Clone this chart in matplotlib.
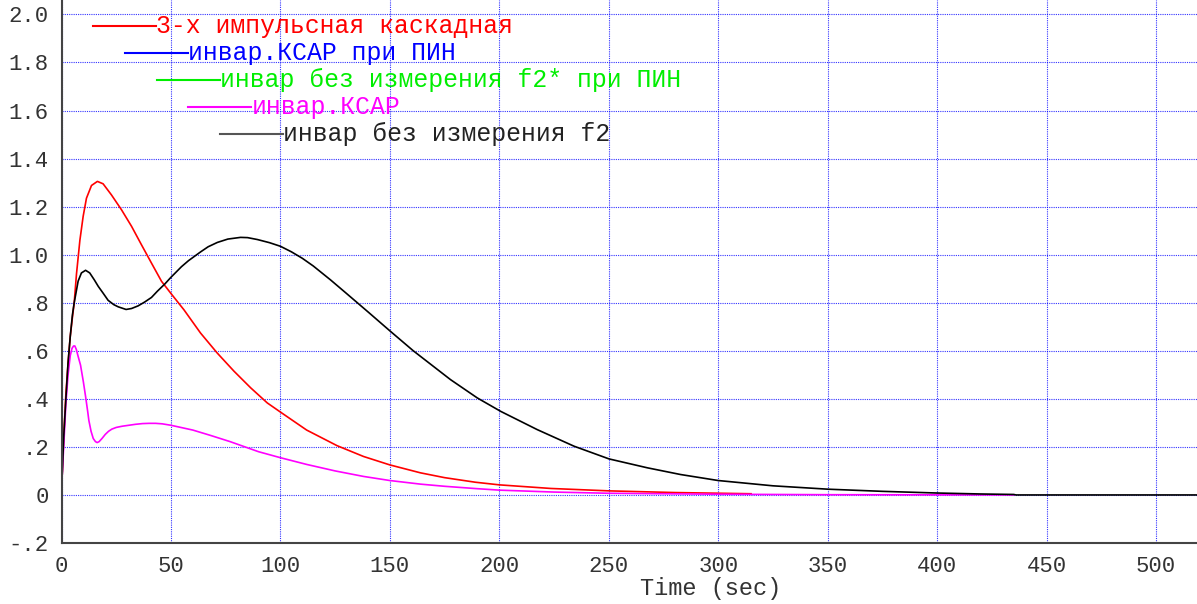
import matplotlib.pyplot as plt

# time axis points (sec) and responses
t_red = [0.3, 1, 2, 3, 4, 5, 5.8, 6.85, 8.4, 9.9, 11.4, 13.7, 16.4, 19.0, 22.8, 27.4, 32.0,
         36.6, 41.1, 45.7, 50.3, 55.9, 63.5, 71.1, 78.8, 86.4, 94, 100, 112, 125.9, 138, 150,
         164, 175, 189, 200, 223.5, 250, 280, 315]
y_red = [0.08, 0.24, 0.42, 0.55, 0.66, 0.74, 0.80, 0.92, 1.06, 1.16, 1.235, 1.288, 1.305,
         1.295, 1.249, 1.187, 1.118, 1.04, 0.965, 0.889, 0.835, 0.771, 0.674, 0.591, 0.515,
         0.446, 0.383, 0.345, 0.27, 0.205, 0.16, 0.125, 0.092, 0.072, 0.053, 0.042, 0.027,
         0.017, 0.01, 0.005]

t_black = [0.3, 1, 2, 3, 4, 5, 5.8, 7.6, 9.1, 11.0, 12.9, 15, 16.8, 19, 21.3, 23.9, 25.9,
           29.5, 32, 35, 38, 41.1, 43.8, 47.2, 49.9, 54.8, 58, 63.6, 67, 71.2, 76, 81.8, 85,
           89.5, 95, 100, 105, 110, 115, 122.9, 130, 140, 150, 160.7, 177.7, 189.9, 200.6,
           217.3, 234.1, 250.1, 267.6, 282.8, 300, 325, 350, 375, 400, 420, 435, 436, 520]
y_black = [0.08, 0.24, 0.40, 0.55, 0.66, 0.75, 0.80, 0.89, 0.924, 0.935, 0.924, 0.895,
           0.868, 0.84, 0.81, 0.792, 0.783, 0.772, 0.776, 0.787, 0.803, 0.822, 0.848, 0.878,
           0.905, 0.95, 0.975, 1.012, 1.033, 1.051, 1.065, 1.072, 1.071, 1.063, 1.05, 1.035,
           1.012, 0.985, 0.953, 0.895, 0.84, 0.762, 0.683, 0.60, 0.48, 0.404, 0.348, 0.272,
           0.203, 0.15, 0.113, 0.085, 0.06, 0.038, 0.024, 0.015, 0.008, 0.004, 0.002, 0.0,
           0.0]

t_mag = [0.3, 1, 2, 3, 4, 4.8, 5.5, 6.1, 6.8, 7.5, 8.7, 10, 11, 12, 12.5, 13.5, 14.5, 15.5,
         16.3, 17.2, 18.5, 20, 21.5, 23, 25, 27.7, 30, 33.8, 37, 40, 43, 46, 50, 55, 60, 68,
         77, 90, 100, 112, 125, 138, 150, 164, 175, 190, 200, 225, 250, 300, 350, 435]
y_mag = [0.08, 0.2, 0.38, 0.50, 0.58, 0.61, 0.62, 0.62, 0.605, 0.58, 0.54, 0.47, 0.41,
         0.345, 0.31, 0.265, 0.235, 0.222, 0.218, 0.222, 0.235, 0.252, 0.265, 0.274, 0.281,
         0.286, 0.289, 0.294, 0.297, 0.298, 0.298, 0.296, 0.29, 0.28, 0.27, 0.248, 0.222,
         0.18, 0.155, 0.127, 0.10, 0.077, 0.06, 0.045, 0.036, 0.026, 0.02, 0.012, 0.007,
         0.003, 0.001, 0.0]

legend_labels = ['3-х импульсная каскадная', 'инвар.КСАР при ПИН',
                 'инвар без измерения f2* при ПИН', 'инвар.КСАР', 'инвар без измерения f2']
legend_colors = ['#ff0000', '#0000ff', '#00ee00', '#ff00ff', '#222222']
legend_line_colors = ['#ff0000', '#0000ff', '#00ee00', '#ff00ff', '#555555']

x_ticks = list(range(0, 501, 50))
y_ticks = [-0.2, 0, 0.2, 0.4, 0.6, 0.8, 1.0, 1.2, 1.4, 1.6, 1.8, 2.0]
y_tick_labels = ['-.2', '0', '.2', '.4', '.6', '.8', '1.0', '1.2', '1.4', '1.6', '1.8', '2.0']

plt.rcParams['font.family'] = ['Liberation Mono', 'DejaVu Sans Mono']

W, H = 1197, 604
fig = plt.figure(figsize=(W / 100, H / 100), dpi=100)
ax = fig.add_axes([61.5 / W, 61 / H, (W - 61.5) / W, 543 / H])

ax.plot(t_red, y_red, color='#ff0000', lw=1.2)
ax.plot(t_mag, y_mag, color='#ff00ff', lw=1.2)
ax.plot(t_black, y_black, color='#000000', lw=1.2)

ax.set_xlim(0, 518.7)
ax.set_ylim(-0.2, 2.06)
ax.set_xticks(x_ticks)
ax.set_yticks(y_ticks)
ax.set_yticklabels(y_tick_labels)
ax.tick_params(length=0, labelsize=16, colors='#333333')
ax.tick_params(axis='y', pad=9)
ax.tick_params(axis='x', pad=9)
ax.grid(True, color='#0000ff', linestyle=(0, (1, 1)), lw=0.8, alpha=0.8)
ax.set_axisbelow(True)

for s in ['top', 'right']:
    ax.spines[s].set_visible(False)
for s in ['left', 'bottom']:
    ax.spines[s].set_color('#444444')
    ax.spines[s].set_linewidth(1.5)

ax.set_xlabel('Time (sec)', fontsize=17, color='#333333')
ax.xaxis.set_label_coords(0.572, -0.063)

# staircase legend at the top left
for i, lab in enumerate(legend_labels):
    x0 = 93 + 31.8 * i
    yl = 26 + 27 * i
    fig.add_artist(plt.Line2D([x0 / W, (x0 + 63) / W], [1 - yl / H, 1 - yl / H],
                              color=legend_line_colors[i], lw=1.5))
    fig.text((x0 + 63) / W, 1 - (yl + 7) / H, lab, color=legend_colors[i],
             fontsize=17.8, va='baseline', ha='left')

fig.savefig('out.png', dpi=100)
